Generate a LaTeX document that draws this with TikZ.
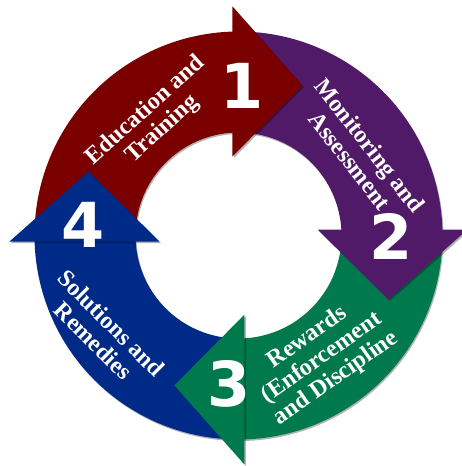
\documentclass[tikz,border=0pt]{standalone}
\usepackage{fontspec}
\usepackage{tikz}
\setmainfont{Liberation Serif}
\newfontfamily\numfont{DejaVu Sans}
\definecolor{stepred}{RGB}{122,0,0}
\definecolor{steppurple}{RGB}{81,26,104}
\definecolor{stepgreen}{RGB}{0,122,77}
\definecolor{stepblue}{RGB}{0,42,135}
\tikzset{
	ringshadow/.style={black,opacity=.3},
	steplabel/.style={text=white,font=\bfseries\fontsize{24}{25}\selectfont,align=center,inner sep=0pt},
	stepnum/.style={text=white,font=\numfont\bfseries\fontsize{62}{62}\selectfont}
}

\begin{document}
\begin{tikzpicture}[x=1pt,y=1pt]
			\useasboundingbox (-238.5,-230.5) rectangle (223.5,235.5);
			% quarter pieces of the ring, one turn step clockwise each
			\foreach \c [count=\i from 0] in {stepred,steppurple,stepgreen,stepblue} {
				\fill[ringshadow,shift={(1,-1.5)},rotate=-90*\i] (181:204) arc (181:90:204) -- (90:103) arc (90:181:103) -- cycle;
				\fill[\c,rotate=-90*\i] (181:204) arc (181:90:204) -- (90:103) arc (90:181:103) -- cycle;
			}
			% arrow heads go on top of the next piece
			\foreach \c [count=\i from 0] in {stepred,steppurple,stepgreen,stepblue} {
				\fill[ringshadow,shift={(1.5,-1.5)},rotate=-90*\i] (-6,79) -- (-6,229) -- (64,150) -- cycle;
				\fill[\c,rotate=-90*\i] (-6,79) -- (-6,229) -- (64,150) -- cycle;
			}
			\foreach \n/\x/\y in {1/3.5/149.5,2/152.5/-0.5,3/-9.5/-148.5,4/-155.5/10.5}
				\node[stepnum] (num\n) at (\x,\y) {\n};
			\node[steplabel,rotate=42] (edu) at (-84.5,115.5) {Education and\\Training};
			\node[steplabel,rotate=-52] (mon) at (121.5,82.5) {Monitoring and\\Assessment};
			\node[steplabel,rotate=35] (rew) at (83.5,-122.5) {Rewards\\(Enforcement\\and Discipline};
			\node[steplabel,rotate=-45] (sol) at (-136,-96.5) {Solutions and\\Remedies};
		\end{tikzpicture}
\end{document}
